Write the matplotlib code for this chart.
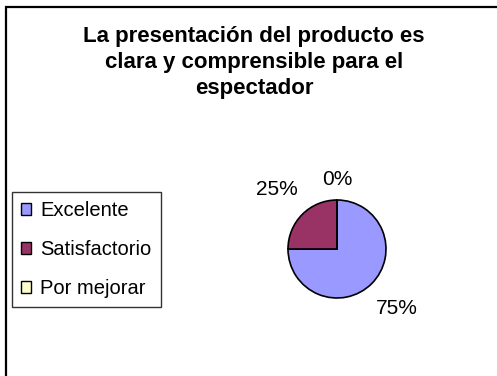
import numpy as np
import matplotlib
matplotlib.use('Agg')
import matplotlib.pyplot as plt
from matplotlib.patches import Rectangle, Patch

plt.rcParams['font.family'] = ['Liberation Sans', 'DejaVu Sans']

# datos
titulo = 'La presentación del producto es\nclara y comprensible para el\nespectador'
categorias = ['Excelente', 'Satisfactorio', 'Por mejorar']
porcentajes = [75, 25, 0]
colores = ['#9999FF', '#993366', '#FFFFCC']

W, H = 497, 376
fig = plt.figure(figsize=(W / 100, H / 100), dpi=100)
fig.patch.set_facecolor('white')

# marco del area del grafico (recortado a la derecha y abajo)
fig.add_artist(Rectangle((6 / W, -0.2), 1.3, 1.2 - 7 / H, transform=fig.transFigure,
                         fill=False, edgecolor='black', linewidth=1.6))

fig.text(254 / W, 1 - 62.5 / H, titulo, ha='center', va='center', fontsize=16,
         fontweight='bold', linespacing=1.33)

# pastel: centro (337, 249) px, radio 49 px
cx, cy, r = 337, 249, 49
ax = fig.add_axes([(cx - r) / W, (H - cy - r) / H, 2 * r / W, 2 * r / H])
wedges, _ = ax.pie(porcentajes, colors=colores, startangle=90, counterclock=False,
                   wedgeprops=dict(edgecolor='black', linewidth=1.2))
ax.set_xlim(-1, 1)
ax.set_ylim(-1, 1)
ax.set_aspect('equal')
ax.axis('off')

for w, p in zip(wedges, porcentajes):
    ang = np.deg2rad((w.theta1 + w.theta2) / 2)
    d = 1.73 if p > 0 else 1.42
    ax.text(d * np.cos(ang), d * np.sin(ang), f'{p}%', ha='center', va='center',
            fontsize=15, clip_on=False)

handles = [Patch(facecolor=c, edgecolor='black', linewidth=1) for c in colores]
leg = fig.legend(handles, categorias, loc='upper left',
                 bbox_to_anchor=(12 / W, 1 - 192 / H), fontsize=14.5,
                 frameon=True, fancybox=False, handlelength=0.5, handleheight=0.5,
                 handletextpad=0.45, labelspacing=1.0, borderpad=0.45, borderaxespad=0)
leg.get_frame().set_edgecolor('black')
leg.get_frame().set_linewidth(1.0)

fig.savefig('out.png', dpi=100)
